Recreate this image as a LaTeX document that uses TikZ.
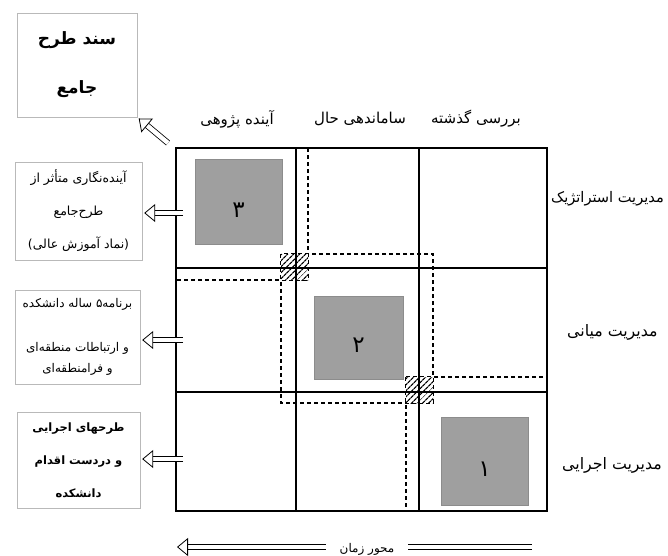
\documentclass[tikz,border=0pt]{standalone}
\usepackage{fontspec}
\usetikzlibrary{arrows.meta, positioning, patterns.meta, calc}
\newfontfamily\fa[Script=Arabic]{DejaVu Sans}
\TeXXeTstate=1
\newcommand{\rtltext}[1]{\beginR #1\endR}
\tikzset{
	infobox/.style={draw=gray!55, fill=white, align=center, inner sep=0pt},
	stagebox/.style={draw=gray!90, fill=gray!75, minimum width=87pt, minimum height=85pt, inner sep=0pt, text height=30pt, text depth=0pt, font=\fa\fontsize{23}{25}\selectfont},
	zone/.style={draw, line width=1.1pt, dash pattern=on 4pt off 3pt},
	overlap/.style={preaction={fill=white}, pattern={Lines[angle=45, distance=4pt, line width=1.2pt]}},
	gridline/.style={line width=1.1pt},
	hollow/.style={draw, line width=0.8pt, double, double distance=4.5pt, shorten >=2pt, -{Triangle[open, length=11pt, width=18pt, line width=0.8pt]}},
	heading/.style={font=\fa\fontsize{15}{17}\selectfont},
	rowlabel/.style={font=\fa\fontsize{15.8}{18}\selectfont, anchor=west, inner sep=0pt}
}

\begin{document}
\begin{tikzpicture}[x=1pt, y=-1pt]
	\useasboundingbox (0,0) rectangle (668,555);
	
	% Dashed zones of the three stages
	\draw[zone] (176,148) rectangle (308,280);
	\draw[zone] (281,254) rectangle (433,403);
	\draw[zone] (406,377) rectangle (547,511);
	
	% Hatched overlaps of the zones
	\path[overlap] (281,254) rectangle (308,280);
	\path[overlap] (406,377) rectangle (433,403);
	
	% Matrix grid
	\coordinate (gridnw) at (176,148);
	\draw[gridline] (gridnw) rectangle (547,511);
	\draw[gridline] (296,148) -- (296,511) (419,148) -- (419,511);
	\draw[gridline] (176,268) -- (547,268) (176,392) -- (547,392);
	
	% Stage squares (gray)
	\node[stagebox] (stage3) at (238.5,202) {۳};
	\node[stagebox, minimum width=89pt, minimum height=83pt] (stage2) at (358.5,337.5) {۲};
	\node[stagebox, minimum height=88pt] (stage1) at (484.5,461) {۱};
	
	% Column headings
	\node[heading] (past) at (476,119) {\rtltext{بررسی گذشته}};
	\node[heading] (present) at (360,119) {\rtltext{ساماندهی حال}};
	\node[heading] (future) at (237,119) {\rtltext{آینده پژوهی}};
	
	% Row labels
	\node[rowlabel, font=\fa\fontsize{14.6}{18}\selectfont] (strategic) at (551,199) {\rtltext{مدیریت استراتژیک}};
	\node[rowlabel] (middle) at (567,332) {\rtltext{مدیریت میانی}};
	\node[rowlabel] (operational) at (562,465) {\rtltext{مدیریت اجرایی}};
	
	% Top document box
	\node[infobox, minimum width=120pt, minimum height=104pt, font=\fa\bfseries\fontsize{17}{49}\selectfont] (masterplan) at (77,65) {\rtltext{سند طرح}\\\rtltext{جامع}};
	
	% Left information boxes
	\node[infobox, minimum width=127pt, minimum height=98pt, font=\fa\fontsize{12.5}{33}\selectfont] (foresight) at (78.5,211) {\rtltext{آینده‌نگاری متأثر از}\\\rtltext{طرح‌جامع}\\\rtltext{(نماد آموزش عالی)}};
	\node[infobox, minimum width=125pt, minimum height=94pt, font=\fa\fontsize{12}{21}\selectfont] (program) at (77.5,337) {\rtltext{برنامه۵ ساله دانشکده}\\[23pt]\rtltext{و ارتباطات منطقه‌ای}\\\rtltext{و فرامنطقه‌ای}};
	\node[infobox, minimum width=123pt, minimum height=96pt, font=\fa\bfseries\fontsize{11.5}{33}\selectfont] (projects) at (78.5,460) {\rtltext{طرحهای اجرایی}\\\rtltext{و دردست اقدام}\\\rtltext{دانشکده}};
	
	% Hollow arrows from the matrix
	\coordinate (out1) at (183,213);
	\coordinate (out2) at (183,340);
	\coordinate (out3) at (183,459);
	\coordinate (docfoot) at (168,143);
	\path[hollow] (out1) -- (out1 -| foresight.east);
	\path[hollow] (out2) -- (out2 -| program.east);
	\path[hollow] (out3) -- (out3 -| projects.east);
	\path[hollow] (docfoot) -- (masterplan.south east);
	
	% Time axis
	\coordinate (tstart) at (532,547);
	\coordinate (tend) at (175,547);
	\path[hollow] (tstart) -- node[pos=0.462, fill=white, inner xsep=14pt, inner ysep=1pt, yshift=-2.5pt, font=\fa\fontsize{12}{14}\selectfont] (timeaxis) {\rtltext{محور زمان}} (tend);
\end{tikzpicture}
\end{document}
